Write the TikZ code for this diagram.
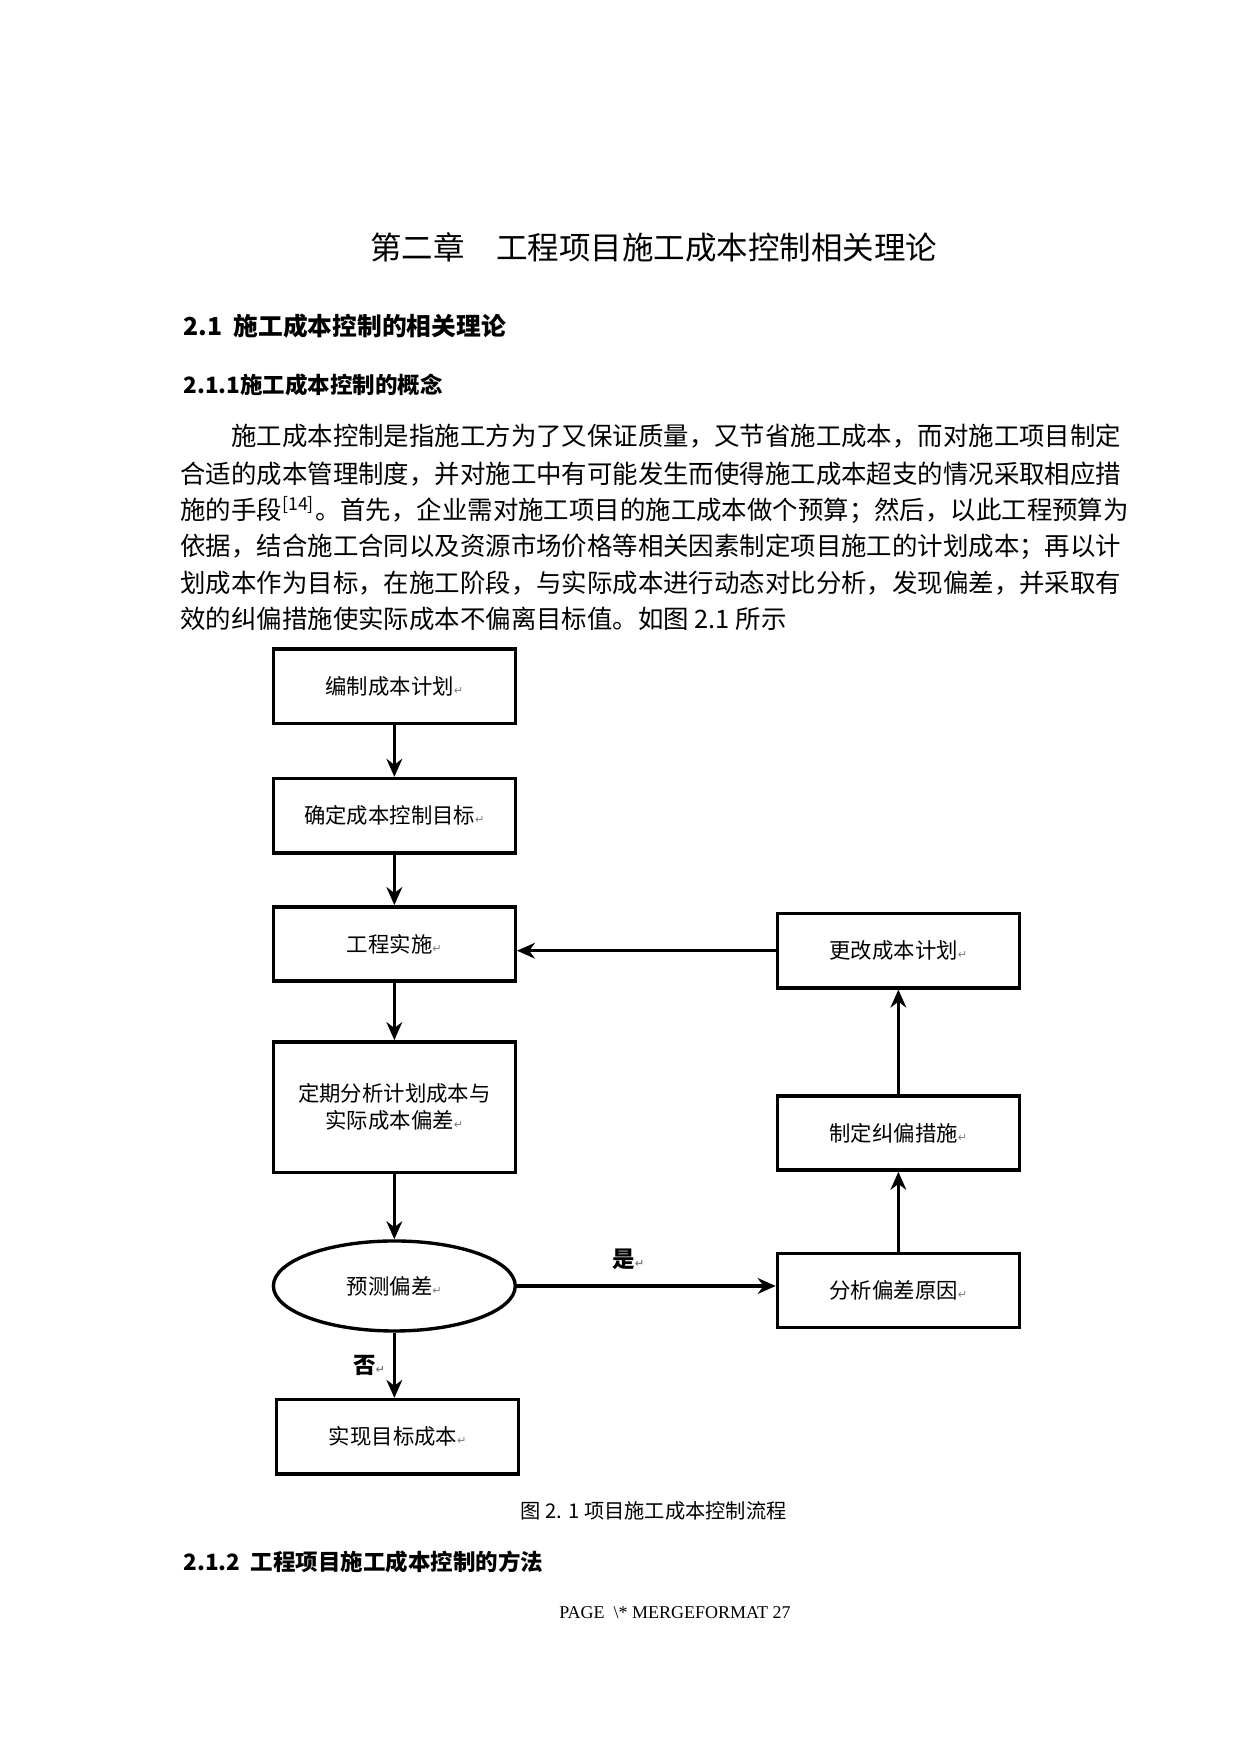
\documentclass[tikz,border=0pt]{standalone}
\usepackage{fontspec}
\setmainfont{Liberation Serif}
\newfontfamily\cjk{Noto Sans CJK SC}
\newfontfamily\dv{DejaVu Sans}
\usetikzlibrary{arrows.meta,shapes.geometric}
\begin{document}
\begin{tikzpicture}[x=0.5pt,y=-0.5pt,
  box/.style={draw,line width=1.5pt,minimum width=107.5pt,minimum height=33pt,inner sep=0pt,font=\cjk\fontsize{9.5}{12}\selectfont,align=center},
  arr/.style={-{Stealth[length=8pt,width=7pt]},line width=1.5pt}]
\newcommand{\rt}{{\dv\fontsize{5}{5}\selectfont\color{gray}↵}}
\useasboundingbox (0,0) rectangle (1102,1559);
\node[font=\cjk\fontsize{14}{16}\selectfont] (t) at (581,220) {第二章　工程项目施工成本控制相关理论};
\node[anchor=west,font=\cjk\bfseries\fontsize{11}{13}\selectfont] (s1) at (156,290) {\textbf{2.1}\ \ 施工成本控制的相关理论};
\node[anchor=west,font=\cjk\bfseries\fontsize{10}{12}\selectfont] (s2) at (156,342) {\textbf{2.1.1}施工成本控制的概念};
\begin{scope}[every node/.style={anchor=west,inner sep=0pt,font=\cjk\fontsize{11.3}{13}\selectfont}]
\node (p1) at (160,388) {\hspace{22.6pt}施工成本控制是指施工方为了又保证质量，又节省施工成本，而对施工项目制定};
\node (p2) at (160,421) {合适的成本管理制度，并对施工中有可能发生而使得施工成本超支的情况采取相应措};
\node (p3) at (160,453) {施的手段\textsuperscript{[14]}。首先，企业需对施工项目的施工成本做个预算；然后，以此工程预算为};
\node (p4) at (160,486) {依据，结合施工合同以及资源市场价格等相关因素制定项目施工的计划成本；再以计};
\node (p5) at (160,518) {划成本作为目标，在施工阶段，与实际成本进行动态对比分析，发现偏差，并采取有};
\node (p6) at (160,550) {效的纠偏措施使实际成本不偏离目标值。如图 2.1 所示};
\end{scope}
\node[box] (b1) at (350.5,610) {编制成本计划\rt};
\node[box] (b2) at (350.5,725) {确定成本控制目标\rt};
\node[box] (b3) at (350.5,839) {工程实施\rt};
\node[box,minimum height=58pt] (b4) at (350.5,984) {定期分析计划成本与\\实际成本偏差\rt};
\node[box,ellipse,minimum height=40pt] (e) at (350.5,1143) {预测偏差\rt};
\node[box] (b5) at (353.5,1277) {实现目标成本\rt};
\node[box] (r1) at (798.5,845) {更改成本计划\rt};
\node[box] (r2) at (798.5,1007) {制定纠偏措施\rt};
\node[box] (r3) at (798.5,1147) {分析偏差原因\rt};
\draw[arr] (b1) -- (b2);
\draw[arr] (b2) -- (b3);
\draw[arr] (b3) -- (b4);
\draw[arr] (b4) -- (e);
\draw[arr] (e.south) -- (e.south |- b5.north) node[midway,left,font=\cjk\bfseries\fontsize{10}{12}\selectfont] {否\rt};
\draw[arr] (e.east) -- (r3.west |- e.east) node[midway,above=3pt,xshift=-8pt,font=\cjk\bfseries\fontsize{10}{12}\selectfont] {是\rt};
\draw[arr] (r3) -- (r2);
\draw[arr] (r2) -- (r1);
\draw[arr] (r1.west) -- (b3.east |- r1.west);
\node[font=\cjk\fontsize{9}{11}\selectfont] (cap) at (581,1343) {图 2. 1 项目施工成本控制流程};
\node[anchor=west,font=\cjk\bfseries\fontsize{10}{12}\selectfont] (s3) at (156,1388) {\textbf{2.1.2}\ \ 工程项目施工成本控制的方法};
\node[font=\fontsize{8}{10}\selectfont] (pg) at (600,1433) {PAGE \ \textbackslash* MERGEFORMAT 27};
\end{tikzpicture}
\end{document}
